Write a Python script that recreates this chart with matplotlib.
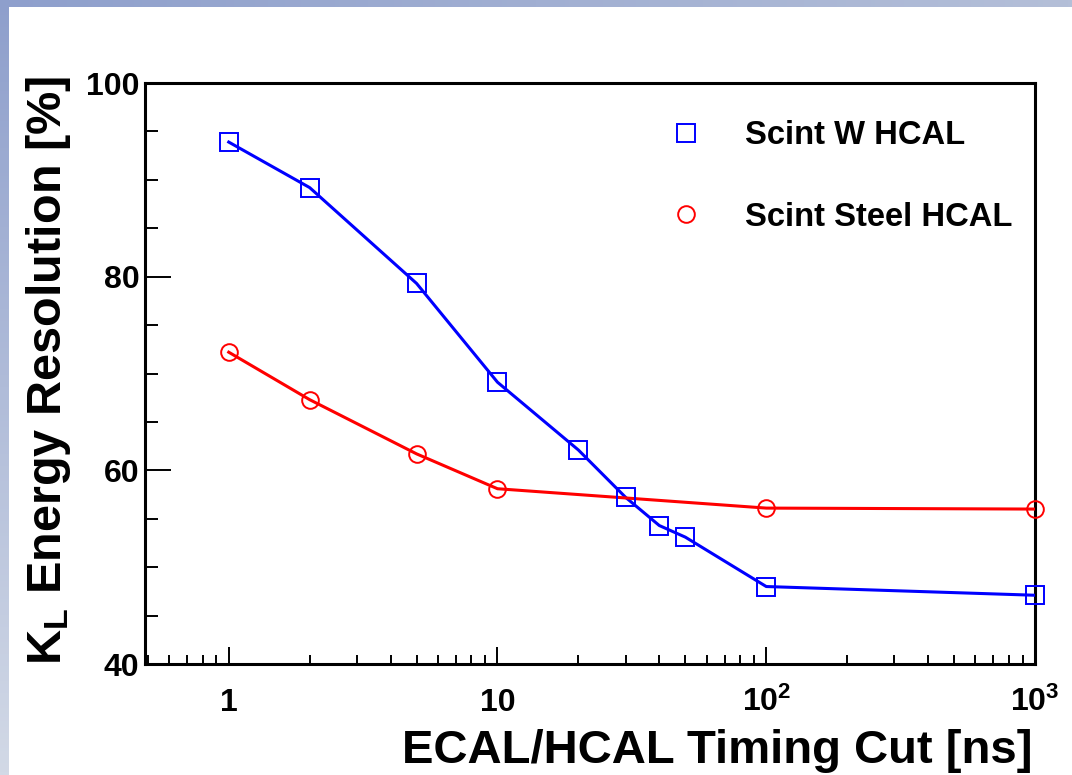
import numpy as np
import matplotlib
matplotlib.use("Agg")
import matplotlib.pyplot as plt
from matplotlib.colors import LinearSegmentedColormap
from matplotlib.ticker import FixedLocator, FixedFormatter, LogLocator, MultipleLocator, NullFormatter

# Bold Helvetica-like text everywhere, including the math bits (K_L, 10^n)
plt.rcParams['font.family'] = ['Liberation Sans', 'DejaVu Sans']
plt.rcParams['font.weight'] = 'bold'
plt.rcParams['mathtext.fontset'] = 'custom'
plt.rcParams['mathtext.rm'] = 'Liberation Sans:bold'
plt.rcParams['mathtext.it'] = 'Liberation Sans:bold'
plt.rcParams['mathtext.bf'] = 'Liberation Sans:bold'
plt.rcParams['mathtext.default'] = 'rm'

# ------------------------------------------------------------
# Data: K_L energy resolution vs ECAL/HCAL timing cut
# ------------------------------------------------------------
time_cut_w = [1, 2, 5, 10, 20, 30, 40, 50, 100, 1000]
res_w = [93.9, 89.2, 79.3, 69.1, 62.1, 57.2, 54.3, 53.1, 48.0, 47.1]

time_cut_steel = [1, 2, 5, 10, 100, 1000]
res_steel = [72.2, 67.3, 61.7, 58.1, 56.1, 56.0]

x_ticks = [1, 10, 100, 1000]
x_tick_labels = ['1', '10', r'$10^{2}$', r'$10^{3}$']
y_ticks = [40, 60, 80, 100]

W, H = 1072, 775
fig = plt.figure(figsize=(W / 100, H / 100), dpi=100)
fig.patch.set_facecolor('white')

# slide-style blue frame along top and left edges
bg = fig.add_axes([0, 0, 1, 1], zorder=-10)
bg.set_xlim(0, W)
bg.set_ylim(H, 0)
bg.axis('off')
top_cmap = LinearSegmentedColormap.from_list('top', ['#8e9fcc', '#b4bfd8'])
left_cmap = LinearSegmentedColormap.from_list('left', ['#8e9fcc', '#d2d9e6'])
grad = np.linspace(0, 1, 256)
bg.imshow(grad[np.newaxis, :], cmap=top_cmap, extent=(0, W, 7, 0), aspect='auto')
bg.imshow(grad[:, np.newaxis], cmap=left_cmap, extent=(0, 9, H, 0), aspect='auto')

ax = fig.add_axes([145 / W, 1 - 664 / H, (1035 - 145) / W, (664 - 83) / H])

lw = 2.2
ax.plot(time_cut_w, res_w, '-', color='#0000ff', lw=lw, zorder=3)
ax.plot(time_cut_steel, res_steel, '-', color='#ff0000', lw=lw, zorder=3)
ax.plot(time_cut_w, res_w, 's', ms=12.5, mfc='none', mec='#0000ff', mew=1.4,
        label='Scint W HCAL', zorder=4, clip_on=False)
ax.plot(time_cut_steel, res_steel, 'o', ms=12, mfc='none', mec='#ff0000', mew=1.4,
        label='Scint Steel HCAL', zorder=4, clip_on=False)

ax.set_xscale('log')
ax.set_xlim(0.488, 1000)
ax.set_ylim(40, 100)

ax.xaxis.set_major_locator(FixedLocator(x_ticks))
ax.xaxis.set_major_formatter(FixedFormatter(x_tick_labels))
ax.xaxis.set_minor_locator(LogLocator(base=10, subs=np.arange(2, 10)))
ax.xaxis.set_minor_formatter(NullFormatter())
ax.yaxis.set_major_locator(FixedLocator(y_ticks))
ax.yaxis.set_minor_locator(MultipleLocator(5))

ax.tick_params(axis='both', which='both', direction='in', top=False, right=False, width=1.4)
ax.tick_params(axis='y', which='major', length=19, labelsize=23, pad=4)
ax.tick_params(axis='y', which='minor', length=9.5)
ax.tick_params(axis='x', which='major', length=12.5, labelsize=23, pad=34)
ax.tick_params(axis='x', which='minor', length=6.5)
for t in ax.xaxis.get_major_ticks():
    t.label1.set_verticalalignment('baseline')

for sp in ax.spines.values():
    sp.set_linewidth(2.2)

ax.legend(loc='upper left', bbox_to_anchor=((670 - 145) / 890, (664 - 120) / 581),
          frameon=False, fontsize=23.6, handlelength=1.0, handletextpad=1.3,
          labelspacing=1.55, borderpad=0, borderaxespad=0, markerscale=1.0)

# axis titles, right/top aligned as in ROOT
fig.text(1032 / W, 1 - 763 / H, 'ECAL/HCAL Timing Cut [ns]', fontsize=34,
         ha='right', va='baseline')
fig.text(49 / W, 1 - 76 / H, r'K$_{L}$ Energy Resolution [%]', fontsize=35,
         rotation=90, ha='center', va='top')

fig.savefig('out.png', dpi=100)
